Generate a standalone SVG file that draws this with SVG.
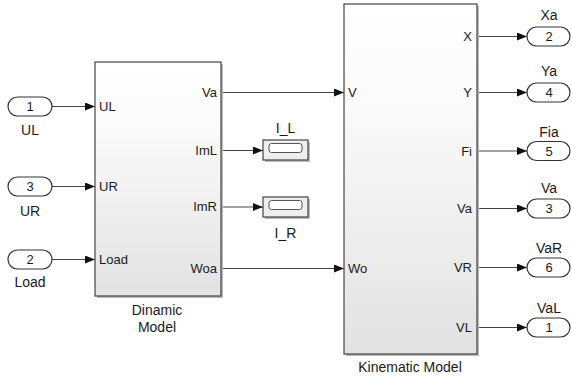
<svg xmlns="http://www.w3.org/2000/svg" width="572" height="379" viewBox="0 0 572 379">
<style>
text{font-family:"Liberation Sans",Arial,sans-serif;font-size:13px;fill:#1a1a1a}
.lbl{font-size:14px}
.blk{stroke:#444;stroke-width:1.2;fill:url(#g)}
.shd{fill:#bbb}
.port{fill:#fff;stroke:#333;stroke-width:1.2}
.ln{stroke:#444;stroke-width:1;fill:none;marker-end:url(#ah)}
.mid{text-anchor:middle}
.end{text-anchor:end}
.disp{fill:#eeeeee;stroke:#444;stroke-width:1.2}
.din{fill:#fff;stroke:#555;stroke-width:1}
</style>
<defs>
<linearGradient id="g" x1="0" y1="0" x2="0" y2="1">
<stop offset="0" stop-color="#ffffff"/>
<stop offset="0.3" stop-color="#fafafa"/>
<stop offset="1" stop-color="#e2e2e2"/>
</linearGradient>
<marker id="ah" viewBox="0 0 10 8" refX="10" refY="4" markerWidth="10" markerHeight="8" markerUnits="userSpaceOnUse" orient="auto">
<path d="M0,0 L10,4 L0,8 z" fill="#111"/>
</marker>
</defs>
<rect width="572" height="379" fill="#fff"/>
<g id="connectors">
<path class="ln" d="M52,106.5 H95"/>
<path class="ln" d="M52,186.5 H95"/>
<path class="ln" d="M52,259.5 H95"/>
<path class="ln" d="M221,92.5 H344"/>
<path class="ln" d="M221,150.5 H263"/>
<path class="ln" d="M221,207 H263"/>
<path class="ln" d="M221,268.5 H344"/>
<path class="ln" d="M477,36.5 H527"/>
<path class="ln" d="M477,92.5 H527"/>
<path class="ln" d="M477,151 H527"/>
<path class="ln" d="M477,208.5 H527"/>
<path class="ln" d="M477,267.5 H527"/>
<path class="ln" d="M477,327.5 H527"/>
</g>
<g id="in1"><rect class="port" x="8" y="97" width="44" height="19" rx="9.5"/><text class="mid" x="30" y="111">1</text><text class="mid lbl" x="30" y="135">UL</text></g>
<g id="in3"><rect class="port" x="8" y="177" width="44" height="19" rx="9.5"/><text class="mid" x="30" y="191">3</text><text class="mid lbl" x="30" y="216">UR</text></g>
<g id="in2"><rect class="port" x="8" y="250" width="44" height="19" rx="9.5"/><text class="mid" x="30" y="264">2</text><text class="mid lbl" x="30" y="287">Load</text></g>
<g id="dinamic">
<rect class="shd" x="97" y="64" width="126" height="234"/>
<rect class="blk" x="95" y="62" width="126" height="234"/>
<text x="99" y="111">UL</text>
<text x="99" y="191">UR</text>
<text x="99" y="264">Load</text>
<text class="end" x="217" y="97">Va</text>
<text class="end" x="217" y="155">ImL</text>
<text class="end" x="217" y="211">ImR</text>
<text class="end" x="217" y="273">Woa</text>
<text class="mid lbl" x="157" y="315">Dinamic</text>
<text class="mid lbl" x="157" y="332">Model</text>
</g>
<g id="I_L">
<rect class="shd" x="265" y="142" width="45" height="20"/>
<rect class="disp" x="263" y="140" width="45" height="20"/>
<rect class="din" x="269" y="143.5" width="33" height="9" rx="2.5"/>
<text class="mid lbl" x="285.5" y="133">I_L</text>
</g>
<g id="I_R">
<rect class="shd" x="265" y="199" width="45" height="20"/>
<rect class="disp" x="263" y="197" width="45" height="20"/>
<rect class="din" x="269" y="200.5" width="33" height="9" rx="2.5"/>
<text class="mid lbl" x="285.5" y="238">I_R</text>
</g>
<g id="kinematic">
<rect class="shd" x="346" y="6" width="133" height="350"/>
<rect class="blk" x="344" y="4" width="133" height="350"/>
<text x="348" y="97">V</text>
<text x="348" y="273">Wo</text>
<text class="end" x="472" y="41">X</text>
<text class="end" x="472" y="97">Y</text>
<text class="end" x="472" y="155.5">Fi</text>
<text class="end" x="472" y="213">Va</text>
<text class="end" x="472" y="272">VR</text>
<text class="end" x="472" y="332">VL</text>
<text class="mid lbl" x="410" y="372">Kinematic Model</text>
</g>
<g id="out2"><rect class="port" x="527" y="27" width="43" height="19" rx="9.5"/><text class="mid" x="549" y="41">2</text><text class="mid lbl" x="549" y="20">Xa</text></g>
<g id="out4"><rect class="port" x="527" y="83" width="43" height="19" rx="9.5"/><text class="mid" x="549" y="97">4</text><text class="mid lbl" x="549" y="76">Ya</text></g>
<g id="out5"><rect class="port" x="527" y="141.5" width="43" height="19" rx="9.5"/><text class="mid" x="549" y="155.5">5</text><text class="mid lbl" x="549" y="137">Fia</text></g>
<g id="out3"><rect class="port" x="527" y="199" width="43" height="19" rx="9.5"/><text class="mid" x="549" y="213">3</text><text class="mid lbl" x="549" y="193">Va</text></g>
<g id="out6"><rect class="port" x="527" y="258" width="43" height="19" rx="9.5"/><text class="mid" x="549" y="272">6</text><text class="mid lbl" x="549" y="253">VaR</text></g>
<g id="out1"><rect class="port" x="527" y="318" width="43" height="19" rx="9.5"/><text class="mid" x="549" y="332">1</text><text class="mid lbl" x="549" y="313">VaL</text></g>
</svg>
